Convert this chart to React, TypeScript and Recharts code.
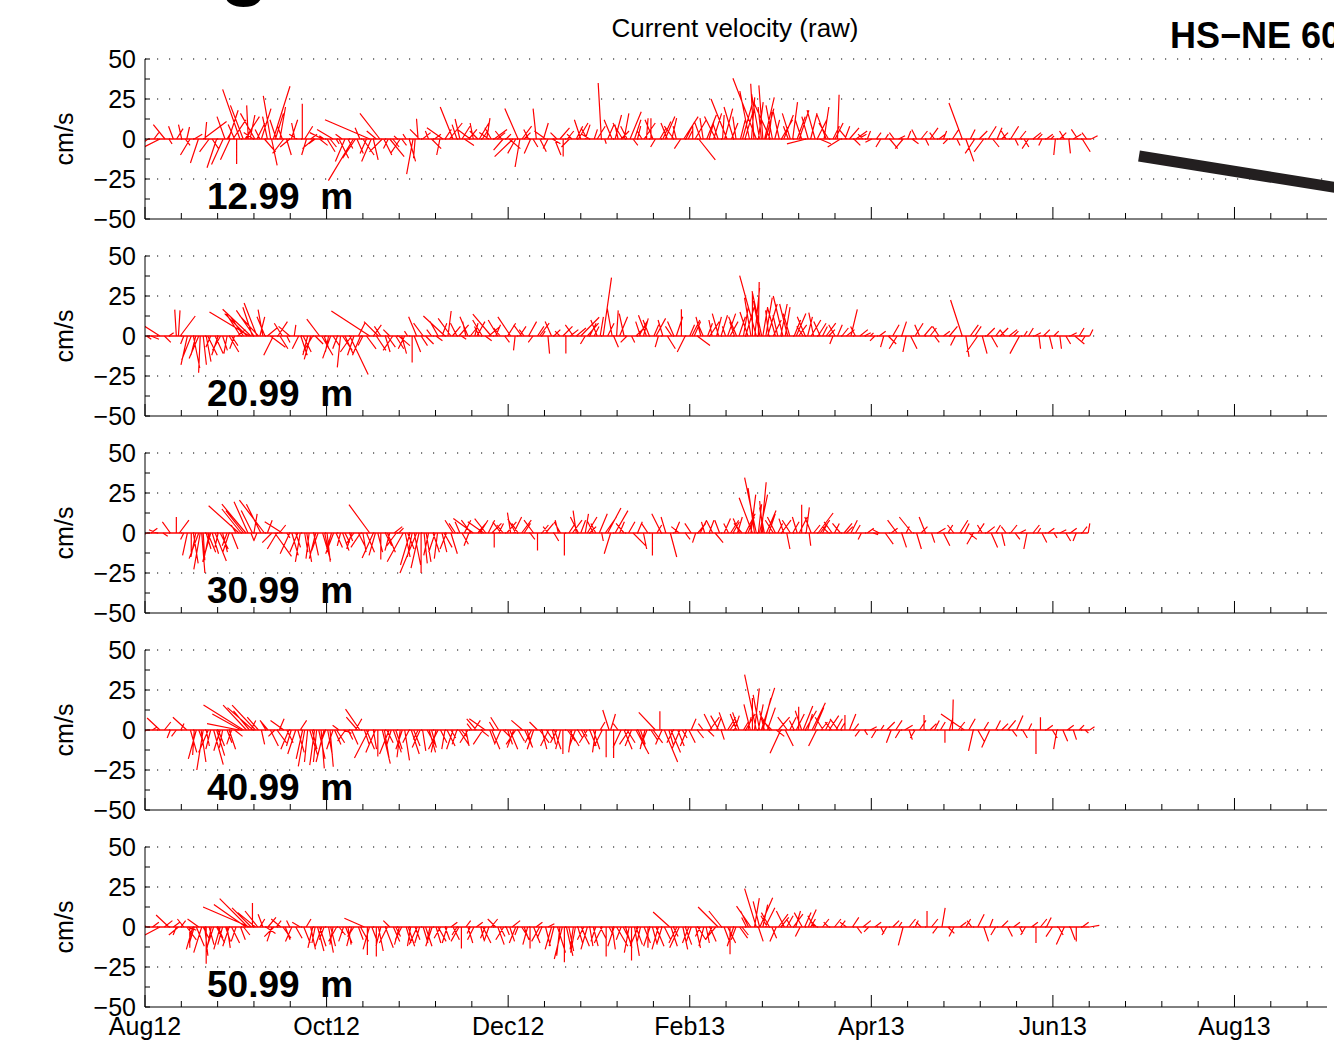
import { ComposedChart, Line, XAxis, YAxis, CartesianGrid } from "recharts";

// time axis: days since 1 Aug 2012, ticks every 1/30 of a year
const monthLabels = ["Aug12", "Oct12", "Dec12", "Feb13", "Apr13", "Jun13", "Aug13"];
const depthLabels = ["12.99", "20.99", "30.99", "40.99", "50.99"];
const yTicks = [-50, -37.5, -25, -12.5, 0, 12.5, 25, 37.5, 50];
const gridLevels = [-25, 0, 25, 50];

// [day, east cm/s, north cm/s]
const sticks13 = [
  [1, -4, -3], [3, 3, 4], [5, -10, -5], [6.7, -7.3, 9], [8, 2, -3], [9.5, -3, 8], [10.6, 4, 6.5], [12.3, -2, 9],
  [13.5, 3, -4], [14, 1.7, 7.5], [15.1, -6, -10], [16.5, 5, 3], [17.9, -5, -15], [19.5, 14.6, 11], [20.1, 1, 10.6],
  [21.5, -6, -8], [22.5, 4, -6], [24, -6, -18], [26.2, -7.3, -16], [27.5, 3, 5], [28.5, -6, -13], [29.5, 8, 12],
  [30.7, 0, -15.6], [31.8, -10.8, 31], [32.9, -8, 21], [34, 4, 8], [34.6, -1, 21], [35.2, 3, 15], [36.3, -6, 4],
  [37.5, 5, 10], [38.5, -3, 6], [40, 7, -8], [42.1, -4.6, 27], [42.4, 3.5, -16.5], [43, 10.4, 33], [44, -4, 12],
  [45.2, 3.5, 20], [46, -3, 8], [47.4, 3, -10], [48.5, -6, -5], [50.2, -2, 10], [51, -5, 3], [52.7, 0, 22],
  [54.1, -3, -10], [55.5, 4, 3], [57, -4, -3], [58.5, 5, -4], [60, -3, 2], [62, 4, -5], [64, 2, -3], [66, -4, 3],
  [68, 3, -6], [69.8, -15.6, -26], [71, 4, -9], [72, -3, 7], [74.2, -4, -9], [75.3, -28, 12], [76.5, 3, -13],
  [77.5, -6, 5], [78.7, -12.5, 16], [80, 5, -10], [81.5, -3, -6], [83, 4, -5], [84.5, -2, 2], [86, 3, -4],
  [87.5, -2, 3], [89.8, -4, -22], [90.5, -1, -12], [91.5, -1, 12.7], [93, 5, 4], [95, -2, 5], [97, 4, 3],
  [98.8, -2, -10], [100.5, 4, 6], [103.2, -8, 20], [104.5, -3, 9], [105.5, -3, 12.5], [107, 6, -4], [108.5, 5, 6],
  [110, -2, 10], [111.5, -5, 5], [113, 4, 6], [114.5, 2, 13], [116, -4, 7], [118, 5, 4], [119.5, -4, 5], [121, 3, 3],
  [123.3, -11.5, -11], [125, -8.3, 19], [125.6, -3, -17.5], [127, 4, 4], [128.5, -3, 6], [130, 3, -5], [131.1, -2, 19],
  [132.3, 4, -8], [133.5, 3, 10], [135, -3, -6], [136.5, 5, -3], [138, -4, 4], [140.1, 0, -11], [141.5, 4, 5],
  [143, -3, 3], [144.5, 4, 8], [146, -4, 12], [147.5, 3, 9], [149, -5, 3], [150.5, 2, 6], [152.9, -2, 35],
  [154, 1, -3], [155, 4, 9], [156.5, -5, 12], [157.5, 4, 15], [158.5, -2, 9], [159.5, 5, 5], [160.5, 3, 16],
  [161.5, -4, 8], [162.5, 7, 17], [163.5, 3, -4], [165, 2, 8], [166.5, -3, 5], [168, 1, 13], [169.5, 0, 13],
  [171, -3, -5], [172.5, 4, 7], [173.5, 5, 11], [175, -4, 10], [176.5, 3, 13], [178, -2, 8], [179.5, -4, -6],
  [180.5, 9, 14], [182, 3, 6], [183.5, 0, 8], [185.5, 10.4, -13], [187, -2, 13], [189, 3, 11], [190.5, 5, 16],
  [192, -3, 9], [193.5, 1, 15], [195, -10, 25], [196.5, 4, 10], [198, -2, 14], [199.5, 3, 12], [201, 5, 17],
  [202.5, -6, 30], [204, -2, 34.5], [204.8, -14.6, 38], [205.5, 3, 23], [206.5, -2, 20], [207, -2.5, 33.5],
  [208, 5, 19], [209.5, -10, 22], [211, 3, 12], [212.5, -4, 18], [214, 6, 15], [215.5, -3, 8], [217, 3, 23],
  [218.5, 5, 14], [220, -4, 12], [221.5, -12, -3], [223, 4, 16], [224.5, -5, 18], [226, 7, -3], [227.5, 3, 20],
  [229, -6, 10], [230.5, 4, 8], [232, 1, 27.7], [233, -8, -5], [234.5, 3, 8], [236, 6, 7], [237.5, 4, -4],
  [239, 5, 3], [240.5, -3, 3], [242, 2, 5], [243.5, -4, -2], [245, 3, 4], [246.5, -3, -5], [248, 2, 3],
  [249.5, 5, -6], [251, -3, 4], [252.5, 4, 2], [254, -5, -6], [255.5, 2, 5], [257, 4, -3], [258.5, -3, 6],
  [260, 4, 5], [261.5, 2, -4], [263, 5, 7], [264.5, -3, 4], [266, 4, 3], [267.5, 2, 5], [269, -3, -3],
  [270.5, 4, 6], [272, 2, -4], [273.8, -8.3, 22.5], [275, 5, -14], [276.5, 3, 6], [278, -6, -9], [279.5, 5, 5],
  [281, -6, -8], [282.5, 5, 8], [284, 4, -5], [285.5, 3, 7], [287, 4, 4], [288.5, -3, 5], [290, 5, 8],
  [291.5, 2, -4], [293, 4, 5], [294.5, 3, -5], [296, -4, -6], [297.5, 5, 4], [299, 3, 3], [300.5, -2, -4],
  [302, 4, 3], [303.5, 2, 2], [305, -1, -10], [306.5, 4, 4], [308, -3, 5], [309.5, 1, -9], [311, 5, 3],
  [312.5, -4, 6], [314, 5, -8], [315.5, -3, 4], [317, 4, 2],
  [26.8, -5, 14], [28, 6, 18], [30, -4, 9], [33.5, 9, 14], [36.8, -9, 16], [39, 6, 19], [41, -3, 14], [43.7, 5, 16],
  [46.5, -7, -9], [49, 4, 12], [53.5, 5, 8], [56.5, -7, -6], [59.5, -8, 4], [61, 5, -8], [63, -10, 6], [65, 6, -12],
  [67, -6, -14], [70.5, -8, -12], [73, 7, -10], [75.8, -6, -14], [79.5, -8, -8], [82, 9, -11], [85.5, -6, -9],
  [88.5, 4, -14], [92, -6, 6], [96, 6, -6], [99.8, -10, 7], [102, 8, 10], [106.2, 5, 8], [109, -8, 6], [112, 6, 10],
  [115.2, -6, 4], [117, 8, 6], [120, -6, -7], [122, 7, -6], [124.2, -5, -9], [126.3, 6, 8], [129.2, -4, -9],
  [134.2, -7, 5], [137.2, 4, -10], [139, 6, 7], [142.2, -5, -5], [145.2, 6, 10], [148.2, -4, 7], [151.5, 5, 8],
  [160, -6, 10], [164, 4, 12], [167.2, 7, 10], [170.2, -5, 12], [174.3, 6, 14], [177.2, -6, 8], [181.2, 5, 10],
  [184.3, 7, 12], [186.2, -4, 11], [188.2, 6, 15], [191.2, -7, 14], [194.2, 5, 19], [197.2, -6, 20], [200.2, 6, 22],
  [203.2, 2, 26], [205.9, -5, 28], [207.6, 6, 26], [209, 2, 17], [210.2, -4, 21], [213.2, 7, 12], [216.2, -5, 16],
  [219.2, 6, 18], [222.2, -4, 14], [225.2, 6, 12], [228.2, -6, 16], [231.2, 5, 10], [235.2, -5, 6], [238.2, 7, 5],
];

const sticks21 = [
  [0.5, 3, -2], [2, 5, -2], [5, -12.5, 8], [6.5, 4, -4], [8, 3, 2], [10.5, -1, 16.5], [11.2, 1, 16], [11.8, 9.4, 12.5],
  [13, -2, -5], [15.5, -6, -15], [17, -3, -12], [18.5, -1, -23], [19.5, 2, -18], [20.5, 3, -16], [22, -3, -7],
  [23.5, 5, -11], [24.5, -4, -12], [26, 3, -9], [27.5, -2, -11], [29, 4, -6], [30, -3, -8], [31, 5, 4], [33, -8, 12],
  [35, -25, 15], [35.5, -17.7, 16.7], [36.5, -11, 16], [37.5, -8, 20.6], [38.5, 3, 12], [39.5, -3, 16.5], [41, 6, 5],
  [42, 9.4, -7], [43, -6, -12], [44.5, 6, 9], [46, -5, 8], [47.5, 2, -4], [50, 1, 7], [51.5, -4, -8], [53, 5, -10],
  [54.5, -3, -12], [55.5, -4, -14.6], [57, 5, -5], [58.5, -8, 10.6], [60, 3, -8], [61.5, -2, -10], [63, 4, -6],
  [64.5, -3, -8], [65.5, -2, -19.6], [67, 5, -11], [68.6, 11.5, -24], [70, -4, -12], [71.5, 4, 8], [73, -3, -6],
  [75.3, -24, 15.6], [76.5, 5, 7], [77.5, 6, -9], [79, -4, 6], [80.5, 3, -10], [82, -4, 4], [84, 5, -8],
  [86, 3, -11], [88, -2, 3], [89.5, 0, -16.5], [91, -5, 12], [92.5, 4, -6], [94, 5, -5], [96, -3, 4], [97.5, 4, -3],
  [99.5, 3, 8], [100.5, -13.5, 12.5], [101.5, 2, 15.6], [103, 5, 6], [104.5, -4, 8], [106, 3, -2], [107.5, -2, 9],
  [109, 4, 5], [110.5, 2, 8], [112, -3, 6], [114, 4, -3], [116, -11.5, 13.7], [117.5, 3, 7], [119, -4, 5],
  [120.5, 3, -4], [122.5, -8, 12], [124, -1, -9], [125.5, 4, 6], [127, -3, 4], [128.5, 5, 9], [130, -3, -4],
  [131.5, 4, 6], [133, 2, 3], [135, 1, -11], [137, 4, 4], [139, -3, 3], [141, 0, -11], [142.5, 5, 4], [144.5, 6, 5],
  [146, 11.5, 11.7], [147.5, -3, -5], [149, 4, 8], [150.5, 3, 6], [152.5, 2, 12], [153.5, 5.2, 36.5], [155, 4, 8],
  [156.5, -3, 17], [157, 3, -7], [158, 1, 16], [159, 5, 12], [160.5, -3, 14], [161.5, -4, -4], [163, 2, -4],
  [164.5, 6, 6], [166, -3, 9], [167, 3, 11], [169, -4, 10], [170.5, 3, 7], [172, -2, -7], [173.5, -3, 10],
  [175, 5, -8], [176.5, -4, 6], [178, 4, 12], [179.7, 0, 16.7], [181, -5, -10], [182.5, 3, 7], [184, 4, 9],
  [185, 8, -6], [187, -3, 7], [188.5, 3, 8], [190, -2, 10], [191.5, 3, 12], [193, 4, 13], [194.5, -2, 6],
  [196, 5, 9], [197.5, -3, 9], [199, 4, 12], [200.5, 3, 18], [202, -5, 15], [203.5, 0, 27], [204.8, -10.4, 37.7],
  [205.5, 0.5, 33.7], [206, -4, 22], [207, 3, 18], [208, 4, 24], [209, -2, 16], [210.5, 5, 10], [212, -3, 13],
  [213.7, -6, 25], [214.5, 3, 18], [216, -4, 14], [217.5, 4, 10], [219, 5, 7], [220.5, -4, 6], [222, 3, 12],
  [224, -3, 14.6], [225.5, 5, 8], [227, 3, 6], [229, 4, 4], [230.5, -2, -5], [232, 3, 7], [233.5, 4, 5],
  [235, 5, 4], [236.5, 4, 16.7], [238, -3, 6], [239.5, 5, 4], [241, 4, 2], [243, 2, 2], [244.5, -3, -3],
  [246, 4, 3], [247.5, -2, -7], [249, 5, -5], [250.5, 4, 7], [252, -5, -8], [253.5, 3, 9], [255, -2, -10],
  [256.5, 4, -8], [258, 5, 8], [259.5, -3, 7], [261, 5, 6], [263, 4, 5], [264.5, 3, -4], [266, -4, 6],
  [267.5, 4, 3], [269.5, 5, 6], [271.5, -3, -6], [273.8, -7.3, 22.5], [275, 2, -13], [276.5, 5, 7], [278, 4, 6],
  [279, -7, -10], [280.5, 3, -11], [282, 5, 5], [283.5, 4, -7], [285, 3, 4], [286.5, 5, 5], [288, -3, 4],
  [289.5, 5, 4], [291, 3, 3], [293, -6, -11], [294.5, 2, 3], [296, 3, 5], [298, 4, 2], [299.5, 1, -8],
  [301, 4, 4], [303, 2, -8], [304.5, 3, 3], [306.5, 1, -8], [308.5, 3, -5], [310, 4, 2], [311.5, 6, -5],
  [313, 3, 5], [315, -2, -3], [316.5, 2, 4],
  [14.2, -4, -18], [16.2, 4, -20], [18, -6, -14], [21, 6, -12], [25.3, -5, -9], [28.2, 6, -10], [32, -9, 14],
  [34.2, -14, 14], [36, -6, 18], [38, -12, 13], [40.2, -5, 12], [45.2, 5, -8], [48.5, -7, 6], [52.2, 4, -12],
  [56.2, -6, -10], [59.2, 7, -12], [62.2, -5, -14], [66.2, 6, -9], [69.2, -7, -10], [72.2, -5, -12], [74.2, 6, -8],
  [78.2, -9, 9], [81.2, 5, -7], [83, -6, -9], [85, 7, -6], [87, -4, -8], [90.2, 4, -10], [93.2, -6, 8], [98.2, -5, 9],
  [102.5, -8, 11], [105.2, 6, 7], [108.2, -5, 12], [111.2, 5, 9], [113, -6, 10], [115.2, 7, 6], [118.2, -6, 10],
  [121.5, 5, 8], [126.2, -5, 7], [132.2, 6, 8], [136.2, -4, 9], [140, 6, 6], [143.5, -5, 7], [148.2, 7, 8],
  [151.5, -4, 10], [165.5, 5, 9], [168, -5, 13], [171.2, 6, 11], [177.2, -4, 9], [183.2, 5, 10], [186.2, -3, 12],
  [189.2, 6, 9], [192.2, -4, 14], [195.2, 5, 14], [198.2, -5, 12], [201.2, 6, 20], [203, -4, 24], [204.3, 3, 30],
  [206.6, -6, 28], [208.6, 6, 20], [211.2, -5, 18], [213, 4, 20], [215.3, -5, 20], [218.2, 6, 14], [221.2, -5, 12],
  [223.2, 6, 10], [226.2, -4, 9], [228.2, 6, 8], [231.2, -4, 7],
];

const sticks31 = [
  [0.5, -3, -2], [2, 4, 3], [4, -5, 2], [6, 3, -2], [8.5, -5, 7], [10.5, 0, 10], [11.5, 6, 8], [13, -2, -4],
  [15.5, 0, -12], [17, -3, -15], [18.5, -4, -22.7], [19.5, 1, -17], [20.5, 3, -10], [21.5, -3, -15], [22.5, 4, -13],
  [23.5, 7, -17.5], [24.5, -2, -9], [26, 3, -12], [27.5, -3, -8], [29, 4, -10], [30.5, -3, 5], [31.5, -19, 17],
  [33, -11, 14], [34.5, -8.7, 19.6], [35.5, 2, -5], [36.5, 2, 12], [37.5, -2, -5], [40, -15.6, 20.6], [41, 3, 8],
  [42.5, -6, -6], [43.5, 10.4, -14.6], [45, 4, 5], [46, -11, 7], [47.5, 2, -3], [48.5, -6, -13], [50.5, 3, -9],
  [52, -3, -18], [53.5, 2, -12], [55, -2, -16], [56.5, 3, -14], [58, -4, -11], [59.5, 5, -17], [61, 2, -18],
  [62.5, -3, -10], [64, 4, -9], [65.5, -2, -8], [67, 3, -6], [68.5, 2, -5], [70, -5, -7], [71.5, 4, -8],
  [73, 2, -12], [75.3, -13, 17.7], [76.5, -7, -15.6], [78, 3, -12], [79, 0, -16.5], [80.5, 4, -8], [82, -3, -11],
  [83.5, 5, 4], [85, 3, 3], [86.5, -10, -18], [88, 4, -10], [89.5, -3, -15], [91, -10.4, -25], [92.5, 0, -25],
  [93.5, 2, -19], [95, -3, -14], [96.5, 4, -12], [98, -2, -16], [99.5, 3, -12], [101, -4, -10], [102.5, 4, -13],
  [104, -4, 6], [105.5, -3, 7], [107, 4, 8], [108.5, -3, -8], [110, -12.5, 9], [111.5, 5, 6], [113.5, -10, 7],
  [115, 4, 8], [117, 0, -9], [118.5, 3, 6], [120, -4, 5], [122.5, -2, 12.7], [123.5, 5, 10], [125, -4, 6],
  [127, 4, 6], [129, 3, -4], [131.5, 0, -11], [133, 4, 5], [135, -3, 4], [137, 3, -5], [138.5, -2, 8],
  [140.5, 0, -14], [142, 4, 6], [144.5, -2, 14], [146, 3, 8], [147.5, 2, 12], [149, 4, 4], [151, -3, 6],
  [153, 1, -5], [155, 8.3, 15.6], [156, -4, -13], [157.5, 8, 14], [159, 3, 7], [160.5, -5, 6], [162, 4, 7],
  [163.5, 8, -8], [165, 3, 7], [167, 2, -10], [168.5, -4, 6], [170, 0, -14], [171.5, 3, 5], [173, -6, 12],
  [174.5, -3, 10], [176, 4, -15], [177.5, 3, 7], [179, -5, 4], [181, 3, -4], [183, -4, 6], [184.5, -2, -6],
  [186, 4, 8], [187.5, -2, 7], [189, 3, 8], [191, 5, -6], [192.5, -3, 8], [194, 4, 9], [195.5, -3, 6],
  [197, 4, 7], [198.5, 3, 10], [200, -5, 6], [202, 4, 10], [203.5, -8.3, 22], [204.8, -7.3, 34.6], [205.5, 2, 18],
  [206.5, 3, 31.7], [207.5, -3, 16], [209, 4, 12], [210.5, -5, 8], [212, 3, 6], [214, -3, 9], [215, 2, -10],
  [217, 4, 7], [218.5, -3, 10], [220, 0, 17.7], [221.5, 2, 16], [222.5, 1, -8], [224, 4, 5], [225.5, 9.4, 12.5],
  [227, 3, 6], [229, -4, 4], [231, 3, 6], [233, -5, 6], [235, 4, 4], [236.5, 4, 8], [238, 3, 5], [240, -2, -4],
  [242, 4, 3], [244, 3, -1], [246, -4, 2], [248, 5, -7], [250, 4, 3], [252, -6, 8], [253.5, 3, -9], [255, 2, 4],
  [257, -8, 10], [258.5, 3, -10], [260, 4, 4], [261.5, -4, 10], [263.5, 2, -6], [265.5, 5, 3], [267.5, 4, -8],
  [269, 3, 5], [271, -4, 5], [273, 5, 8], [274.5, 3, 6], [276, 5, -4], [277.5, -4, -7], [279, 4, 6],
  [280.5, -3, 5], [282, 5, 4], [283.5, 4, -9], [285, 3, 5], [287, 2, -8], [288.5, -3, 4], [290, 4, 5],
  [291.5, 3, -4], [293, 4, 2], [295.5, -2, -10], [297.5, 4, 5], [299, 2, 3], [300.5, 3, -6], [302.5, 4, 3],
  [304.5, 2, -3], [306.5, 4, 2], [308.5, 3, -5], [310, 4, 3], [312, -2, -5], [314, 3, 4], [316, 1, 6],
  [14.2, -3, -14], [16.2, 3, -19], [18, -6, -16], [19, 2, -25], [21, 5, -12], [22, -5, -18], [25.2, 5, -10],
  [28.2, -4, -12], [32.2, -12, 15], [33.8, -15, 18], [36, -7, 14], [38.8, -9, 18], [44.2, -6, -10], [49.2, 4, -14],
  [51.2, -5, -12], [54.2, 3, -18], [57.2, -4, -16], [60.2, 3, -14], [63.2, -5, -13], [66.2, 4, -11], [69.2, -3, -10],
  [72.2, -6, -9], [74.2, 5, -12], [77.2, -4, -14], [81.2, 5, -12], [84.2, -6, -8], [87.2, 3, -15], [88.8, -6, -20],
  [90.2, 4, -20], [91.8, -5, -22], [94.2, 3, -18], [97.2, -4, -12], [100.2, 5, -9], [103.2, -5, 8], [106.2, 4, -7],
  [109.2, -6, 8], [112.2, 5, 8], [114.2, -7, 9], [116.2, 6, 6], [119.2, -5, 7], [121.2, 6, 7], [124.2, -5, 9],
  [126.2, 6, 8], [130.2, -6, 8], [134.2, 5, 6], [139.2, -4, 7], [143.2, 6, 8], [145.2, -5, 10], [148.2, 6, 10],
  [150.2, -4, 8], [152.2, 5, 12], [154.2, 7, 10], [185.2, 5, 6], [190.2, -4, 8], [196.2, 5, 8], [199.2, -4, 9],
  [201.2, 6, 12], [203, 3, 24], [204.2, -4, 28], [205.9, 5, 24], [207, -2, 20], [208.2, 6, 14], [211.2, -5, 10],
  [213.2, 6, 8], [216.2, -5, 8], [219.2, 5, 10], [223.2, -4, 10], [226.2, 6, 8], [230.2, -5, 7], [234.2, 5, 6],
];

const sticks41 = [
  [0.5, -3, -2], [2.5, 3, 2], [5, -8, 7.5], [6.5, 4, 5], [8.5, -2, -5], [10.5, -3, -4], [12, 2, 4], [14, -8.7, 8],
  [16.5, -1, -15.6], [18, 3, -8], [19.5, -4, -25], [20.5, 2, -10], [22, -3, -12], [23, 6, -21.6], [24.5, 4, -10],
  [26, -2, -11], [27.5, 3, -8], [29, -3, -9], [30, 5, -4], [31.5, -20, 4], [33, -25, 15.6], [34, -14.6, 15.6],
  [35.5, 3, 6], [37, -14.6, 15.6], [38, -7, 8], [39, 2, -9], [40.5, -3, 5], [42, 5, -10], [43.5, -4, -4],
  [45, 3, 7], [46.5, -8.3, 6], [47.5, 4, -8], [49, -3, -10], [50.5, -5, -15], [52, 4, 6], [53.5, -4, -22.7],
  [54.5, -2, -20], [56, 3, -12], [57.5, -2, -20], [59, 2, -24], [60.5, -3, -8], [62, 2, -23], [63.5, 4, -9],
  [65, -4, 3], [66.5, 5, -2], [68, 3, -6], [70.5, 4, 7], [72, -9, 13], [73.5, 3, -9], [75, -9, -17.5],
  [76.5, 2, -12], [78, 0, -16.5], [79.5, 5, -21], [81, 4, -8], [82.5, -3, -10], [84, 4, -12], [85.5, -2, -17],
  [87, 3, -19], [88.5, -4, -8], [90, 4, -10], [91.5, -3, -6], [93, 2, -13], [94.5, 5, -9], [96, 3, -11],
  [97.5, -3, -14], [99, 4, -8], [100.5, -2, -12], [102.5, 3, -5], [104.5, -3, -9], [106, 4, -5], [107.5, 2, -10],
  [109.5, -3, 4], [111, -6, 7], [112.5, 5, -4], [114, -10, 7], [115.5, 3, -8], [117, -3, 5], [118.5, -5, 8],
  [120, 4, -4], [121.5, 3, -9], [123.5, -4, -11], [125, 4, -7], [126.5, -7, 6], [128, 3, -10], [129.5, -4, -8],
  [131.5, -5, 5], [133, 3, -12], [134.5, 4, -6], [136.5, 2, -9], [138, -4, -8], [140, 0, -15], [141.5, 5, -7],
  [143, -2, -14], [145, 3, -5], [147, 2, -4], [149, 4, -10], [151, -2, -14], [152.5, 3, 5], [154.5, 0, -17],
  [155.5, -4, 12.5], [156, 3, 10], [157, 0, -17.5], [158.5, -3, 4], [159.5, -5, -11], [161.5, 5, -8],
  [163, -4, -10], [164.5, 8, -15], [166, 3, -9], [167.5, -3, -12], [169.5, 4, -6], [171, -10.4, 11],
  [172.5, 0, 11.7], [174, 8.3, -20], [175.5, 3, -10], [177, -4, -8], [178.5, 4, -10], [180, 3, -5],
  [181.5, -4, -10], [183, 3, 7], [185, 4, -5], [187, -3, 4], [188.5, 4, -4], [190, -5, 10], [191.5, 3, 8],
  [193, 2, -6], [194.5, -4, 11], [196, 4, 6], [197.5, 3, 9], [199, -4, 11], [200.5, 3, 5], [202, 2, 8],
  [203.5, 0, 20], [204.8, -7.3, 34.6], [205.5, 3, 16], [206.5, 8.3, 26.3], [207.5, -3, 12], [208.5, 5, 14],
  [210, -7, 7], [211.5, 5, -4], [213, -6.7, -14.6], [214.5, 5, -10], [216, 4, 8], [217.5, -3, 6], [219, 0, 14.6],
  [220.5, 6, 15], [222, 3, 10], [223.5, 8.3, 17], [225, -5, -10], [226.5, 4, 5], [228, 3, 6], [230, -4, 5],
  [231.5, 4, 7], [233, 3, 5], [234.5, 0, 9.4], [236, 4, 10], [237.5, 3, 4], [239.5, -3, -4], [241, 2, -3],
  [243, 4, 2], [245, -3, -5], [246.5, 2, 3], [248.5, 5, 5], [250, -3, -8], [251.5, 4, 6], [253, -3, -5],
  [254.5, 5, 3], [256, 2, -6], [258, -3, -5], [259.5, 4, 6], [261, 0, 9.4], [263, 4, 4], [264.5, 3, 6],
  [266.5, 3, 5], [268, 0, -8], [269.5, 2, 7], [270.5, 0.5, 19], [272.5, 4, 5], [274.5, -14.6, 10], [276, 4, 7],
  [277.5, -3, -13], [279, 4, -7], [281, 3, 5], [283, -5, -11], [285, 3, 6], [287, 4, 4], [289, 5, 6],
  [290.5, 3, -4], [292, 4, 9], [294, 3, -5], [296, 2, 4], [298.5, 0, -15], [300, 0, 8], [302, 4, 3],
  [304, 3, -5], [305.5, -2, -12], [307.5, 3, -7], [309, 4, 3], [311, 2, -6], [313, 3, 3], [315, 2, -2],
  [316.5, 3, 2],
  [15.2, 4, -14], [17.2, -5, -18], [18.8, 3, -20], [21.2, -6, -14], [24, 5, -16], [25.2, -4, -13], [28.2, 4, -12],
  [32.2, -18, 10], [35, -10, 12], [36.2, -16, 14], [41.2, -5, 6], [44.2, 6, -8], [48.2, -5, -12], [51.2, 4, -14],
  [52.8, -4, -18], [55.2, 5, -16], [56.8, -3, -22], [58.2, 4, -18], [60, -5, -20], [61.2, 3, -16], [63, -4, -12],
  [64.2, 5, -8], [67.2, -5, -7], [69.2, 4, -9], [71.2, -7, 8], [74.2, 5, -12], [77.2, -6, -14], [80.2, 3, -18],
  [81.8, -6, -15], [83.2, 5, -14], [86.2, -4, -12], [89.2, 5, -15], [92.2, -5, -11], [95.2, 4, -14], [98.2, -6, -12],
  [101.2, 5, -10], [103.2, -4, -12], [105.2, 6, -9], [108.2, -5, -8], [110.2, 4, 6], [113.2, -6, -9], [116.2, 5, -12],
  [119.2, -4, -9], [122.2, 5, -12], [124.2, -6, -9], [127.2, 5, -11], [130.2, -4, -12], [132.2, 6, -8],
  [135.2, -5, -10], [137.2, 4, -12], [139.2, -3, -12], [142.2, 6, -10], [144.2, -4, -11], [146.2, 5, -9],
  [148.2, -5, -8], [150.2, 4, -12], [153.2, -5, -10], [160.5, 5, -12], [162.2, -6, -9], [165.2, 5, -12],
  [168.2, -4, -10], [170.2, 6, -8], [173.2, -4, -9], [176.2, 6, -14], [179.2, -5, -12], [182.2, 4, -8],
  [189.2, 6, 8], [192.2, -5, 9], [195.2, 5, 8], [198.2, -4, 10], [201.2, 6, 10], [202.8, -4, 16], [204.2, 3, 26],
  [205.9, -4, 22], [207, 5, 20], [209.2, -6, 10], [212.2, 7, 8], [215.2, -6, 8], [218.2, 5, 10], [220, -4, 12],
  [221.2, 7, 12], [224.2, 6, 14], [227.2, -5, 8], [229.2, 6, 9], [232.2, -5, 7],
];

const sticks51 = [
  [0.5, -3, 2], [2.5, 4, 3], [5, -9.4, -5], [6.5, 5, 4], [8, -8, 7.5], [9.5, 4, 3], [10.5, -2, -5], [12, 3, 4],
  [13, -4, 5], [14.5, 5, -2], [15, 0, -13], [16.5, -3, -10], [18, -7, 5], [19.5, 4, -8], [20.5, 0, -23],
  [21.5, 3, -11], [23, -4, -12], [24.5, 3, -7], [26, -3, -11], [27.5, 2, -13], [29, 5, -10], [30.5, -3, -9],
  [32, 3, -8], [33, 4, -5], [34.5, -17.7, 17.7], [35, -29, 12.5], [36, 0, 15], [37, -11, 9], [38.5, 3, 5],
  [39.5, -3, 8], [40.5, 6, -4], [42.5, -3, -9], [44, 3, 4], [45.5, -6, 5], [47, 3, -8], [48.5, -2, 4],
  [50.5, 4, -7], [52, -5, 3], [54, 3, 5], [55.5, 3, -14], [57, -2, -10], [58.5, 4, -12], [60, -3, -8],
  [61.5, 3, -16], [63, -2, -11], [65, 4, -5], [66.5, -3, -9], [68, 2, -11], [70, -4, -6], [71.5, 3, -8],
  [73.5, -12.5, 5.5], [74.5, 0, -17.5], [76, 3, -8], [77.5, 0, -18.5], [79, -3, -12], [80.5, 5, -13],
  [82, -4, 4], [84, 3, -6], [86, -4, -8], [87.5, 3, -10], [89, -2, -12], [90.5, 3, -8], [92, -3, -10],
  [94, 4, -12], [95.5, -2, -9], [97.5, 3, -10], [99, -4, -7], [100.5, 3, -8], [102.5, 4, 3], [104.5, -3, -5],
  [106, 0, -13.5], [107.5, 3, 4], [109, -2, -4], [111, 4, 3], [112.5, 2, -8], [114, -3, -7], [116, 4, 5],
  [117.5, -5, 5], [119, 3, -6], [121, 2, -5], [123, 5, 4], [125, -2, -5], [127, 3, -8], [129, 0, -13.5],
  [131, 4, 3], [133, -3, -7], [135, 4, 2], [137, -3, -12], [139, -2, -18], [140.5, 0, -22], [142, 3, -15],
  [143.5, -2, -14], [145, 3, -10], [147, -4, -8], [149, 2, -12], [151, -3, -9], [152.5, 4, -8],
  [154.5, 0, -18.5], [155.5, 3, -6], [156.5, 2, -14], [158, 7, -12], [159.5, -3, -8], [161, 4, -13],
  [163, 0, -21], [164.5, 4, -11], [166, -2, -9], [168.5, 0, -13], [170, 3, -11], [172, -4, -14], [174, 4, -8],
  [175.8, -10.4, 9.4], [177, 3, -6], [179, -6, -13], [181, 4, -11], [183, -3, -9], [184.5, 3, -13], [186, -3, -6],
  [188, 2, -10], [190, -4, -8], [192, -12.5, 12.5], [194, 3, -8], [196, 0, -17], [198, -3, -8], [200, 4, -5],
  [201.5, -3, 6], [203, -9, 13], [204.8, -7.3, 24], [205.5, 3, -9], [206, 8, 18.3], [207, 3, 14], [208.5, -4, 7],
  [210, 3, -7], [211.5, -4, -9], [213, 5, 6], [215, 4, 7], [216.5, -3, 5], [218, 3, 10], [219.5, -3, -6],
  [221, 4, 9], [223, 3, 5], [225, -4, 4], [227, 4, 5], [229, -3, 3], [231, 4, 5], [233, 3, 4], [235, -4, 3],
  [237, 4, 6], [238.5, 3, -4], [240.5, 5, 4], [242.5, -3, -3], [244.5, 4, 3], [246.5, 2, -4], [248.5, -3, -5],
  [250.5, 4, 4], [252.5, 2, 3], [254, -3, -11.5], [256, 4, 5], [258, 2, 4], [260, -3, 3], [262, 0, 10],
  [263.5, 4, 5], [265.5, -3, -4], [267, 2, 12], [269, 4, -4], [271, -3, -6], [273, 4, 3], [275, 3, 5],
  [277, -3, 4], [279, 4, 8], [281, 3, -9], [283, 2, 5], [285, -3, -5], [287, 4, 4], [289, 3, -6], [291, 4, 3],
  [293, 2, -4], [295, -3, -5], [297, 4, 3], [298.5, 0, -10], [300, 4, 5], [302, 3, 6], [304, -4, -6],
  [306, 3, -5], [308, -5, -11], [310, 3, -8], [312, 0, -9], [314, 4, 3], [316.5, 6, 1],
  [11.2, -6, -5], [14, 6, -8], [16, -4, -14], [17.2, 5, -12], [19, -5, -16], [20, 2, -18], [22.2, -3, -15],
  [24, 5, -10], [25.2, -4, -14], [27, 3, -9], [28.2, -4, -12], [33.8, -20, 14], [35.6, -12, 12], [37.8, -8, 10],
  [41.2, 5, 6], [43.2, -6, -6], [46.2, 5, -7], [49.2, -4, -9], [53.2, 4, -10], [56.2, -3, -13], [57.8, 4, -15],
  [59.2, -4, -12], [62.2, 3, -12], [64.2, -5, -9], [67.2, 4, -10], [69.2, -3, -12], [72.2, 5, -9], [75.2, -4, -14],
  [78.2, 3, -15], [81.2, -5, -10], [83.2, 4, -9], [85.2, -3, -11], [88.2, 4, -12], [91.2, -5, -11], [93.2, 3, -10],
  [96.2, -4, -12], [98.2, 5, -9], [101.2, -3, -10], [103.2, 4, -8], [105.2, -5, -9], [108.2, 3, -10], [110.2, -4, -8],
  [113.2, 5, -10], [115.2, -3, -9], [118.2, 4, -11], [120.2, -5, -8], [122.2, 3, -9], [124.2, -4, -10],
  [126.2, 5, -8], [128.2, -3, -11], [130.2, 4, -10], [132.2, -5, -9], [134.2, 3, -12], [136.2, -4, -14],
  [138.2, 5, -16], [139.8, -5, -20], [141.2, 4, -18], [144.2, -3, -16], [146.2, 5, -12], [148.2, -4, -14],
  [150.2, 3, -12], [153.2, -5, -10], [157.2, -4, -12], [160.2, 5, -10], [162.2, -3, -16], [164, 3, -18],
  [165.2, -5, -12], [167.2, 4, -10], [169.2, -4, -12], [171.2, 5, -12], [173.2, -3, -10], [176.2, 4, -12],
  [178.2, -5, -10], [180.2, 3, -14], [182.2, -4, -10], [185.2, 5, -8], [187.2, -3, -12], [189.2, 4, -9],
  [191.2, -5, -6], [193.2, -8, 10], [195.2, 5, -10], [197.2, -4, -12], [199.2, 5, -7], [202.2, -5, 10],
  [204.2, 3, 18], [205.9, -4, 16], [207.8, 6, 12], [209.2, -5, 9], [212.2, 6, 8], [214.2, -5, 10], [217.2, 6, 8],
  [220.2, -5, 9], [222.2, 5, 11], [224.2, -4, 7],
];

const panels = [sticks13, sticks21, sticks31, sticks41, sticks51];

const X_MAX = 396; // axis runs to 1 Sep 2013
const xTicks = Array.from({ length: 33 }, (_, i) => (i * 365) / 30);
const PLOT_W = 1182;
const PLOT_H = 160;
// sticks keep true direction: east component converted to days at the same pixel scale as north
const DAYS_PER_CMS = (PLOT_H / 100) / (PLOT_W / X_MAX);

const FONT = '"Liberation Sans", Arial, Helvetica, sans-serif';

function stickPoints(sticks: number[][]) {
  const pts: { x: number; y: number | null }[] = [];
  for (const [t, u, v] of sticks) {
    pts.push({ x: t, y: 0 }, { x: t + u * DAYS_PER_CMS, y: v }, { x: t, y: null });
  }
  return pts;
}

function YTick(props: any) {
  const { x, y, payload } = props;
  const v = payload.value;
  const labeled = v % 25 === 0;
  return (
    <g>
      <line x1={x} x2={x + 5} y1={y} y2={y} stroke="#000" />
      {labeled && (
        <text x={x - 9} y={y} dy="0.36em" textAnchor="end" fontSize={25} fill="#000">
          {v < 0 ? "\u2212" + Math.abs(v) : String(v)}
        </text>
      )}
    </g>
  );
}

function makeXTick(showDates: boolean) {
  return (props: any) => {
    const { x, y, index } = props;
    const major = index % 5 === 0;
    return (
      <g>
        <line x1={x} x2={x} y1={y} y2={y - (major ? 12 : 6)} stroke="#000" />
        {showDates && major && (
          <text x={x} y={y + 28} textAnchor="middle" fontSize={25} fill="#000">
            {monthLabels[index / 5]}
          </text>
        )}
      </g>
    );
  };
}

function Panel({ sticks, index }: { sticks: number[][]; index: number }) {
  const data = stickPoints(sticks);
  const times = sticks.map((s) => s[0]);
  const base = [
    { x: Math.min(...times), y: 0 },
    { x: Math.max(...times), y: 0 },
  ];
  const top = 39 + 197 * index;
  return (
    <div style={{ position: "absolute", left: 0, top }}>
      <ComposedChart width={1400} height={220} margin={{ top: 20, right: 73, bottom: 0, left: 65 }}>
        <CartesianGrid
          vertical={false}
          horizontalValues={gridLevels}
          stroke="#000"
          strokeDasharray="1.2 10.8"
        />
        <XAxis
          type="number"
          dataKey="x"
          domain={[0, X_MAX]}
          ticks={xTicks}
          interval={0}
          allowDataOverflow
          height={40}
          tickLine={false}
          tickSize={0}
          tickMargin={0}
          axisLine={{ stroke: "#000" }}
          tick={makeXTick(index === 4)}
        />
        <YAxis
          type="number"
          domain={[-50, 50]}
          ticks={yTicks}
          interval={0}
          allowDataOverflow
          width={80}
          tickLine={false}
          tickSize={0}
          tickMargin={0}
          axisLine={{ stroke: "#000" }}
          tick={YTick}
        />
        <Line data={base} dataKey="y" stroke="#ff0000" strokeWidth={1.5} dot={false} activeDot={false} isAnimationActive={false} />
        <Line
          data={data}
          dataKey="y"
          type="linear"
          stroke="#ff0000"
          strokeWidth={1.2}
          dot={false}
          activeDot={false}
          connectNulls={false}
          isAnimationActive={false}
        />
      </ComposedChart>
    </div>
  );
}

export default function App() {
  return (
    <div
      style={{
        position: "fixed",
        left: 0,
        top: 0,
        width: 1334,
        height: 1041,
        overflow: "hidden",
        background: "#fff",
        fontFamily: FONT,
      }}
    >
      {panels.map((s, i) => (
        <Panel key={i} sticks={s} index={i} />
      ))}
      <svg
        width={1334}
        height={1041}
        style={{ position: "absolute", left: 0, top: 0, pointerEvents: "none" }}
        fontFamily={FONT}
      >
        <text x={220} y={-10} fontSize={80} fontWeight="bold" fill="#000">g</text>
        <text x={735} y={37} textAnchor="middle" fontSize={26} fill="#000">
          Current velocity (raw)
        </text>
        <text x={1170} y={48} fontSize={36} fontWeight="bold" fill="#000">
          HS{"\u2212"}NE 60
        </text>
        <line x1={1139} y1={156} x2={1345} y2={189} stroke="#231f20" strokeWidth={11} />
        {depthLabels.map((d, i) => (
          <g key={d}>
            <text x={207} y={209 + 197 * i} fontSize={37} fontWeight="bold" fill="#000">
              {d + "\u00a0\u00a0m"}
            </text>
            <text
              transform={`translate(73, ${139 + 197 * i}) rotate(-90)`}
              textAnchor="middle"
              fontSize={25}
              fill="#000"
            >
              cm/s
            </text>
          </g>
        ))}
      </svg>
    </div>
  );
}
